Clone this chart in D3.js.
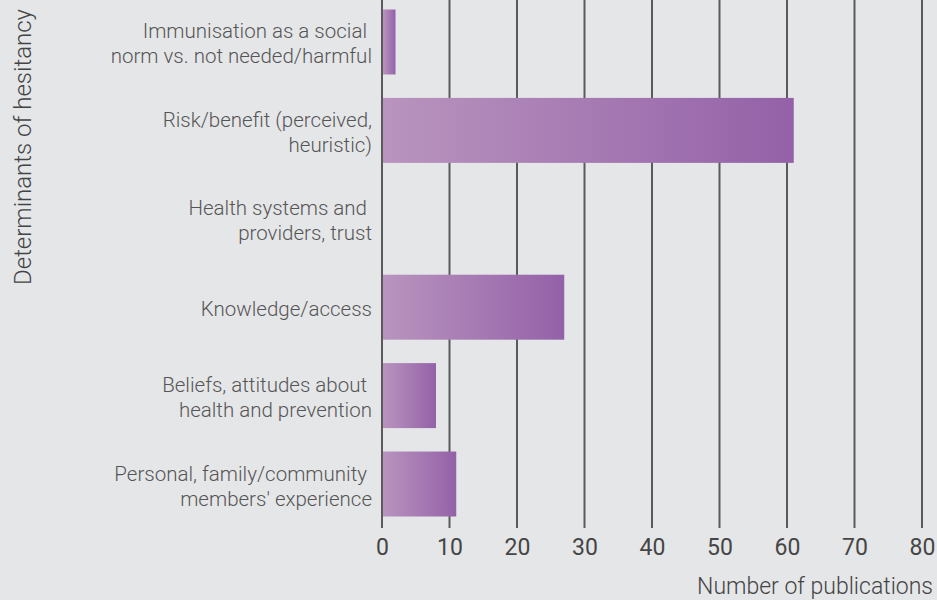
<!DOCTYPE html>
<html>
<head>
<meta charset="utf-8">
<script src="https://cdn.jsdelivr.net/npm/d3@7"></script>
<style>
  body { margin: 0; background: #e5e6e8; }
  svg { display: block; }
</style>
</head>
<body>
<svg id="chart" width="937" height="600"></svg>
<script>
var categories = [
  ["Immunisation as a social ", "norm vs. not needed/harmful"],
  ["Risk/benefit (perceived,", "heuristic)"],
  ["Health systems and ", "providers, trust"],
  ["Knowledge/access"],
  ["Beliefs, attitudes about ", "health and prevention"],
  ["Personal, family/community ", "members' experience"]
];
var publications = [2, 61, 0, 27, 8, 11];
var xTicks = [0, 10, 20, 30, 40, 50, 60, 70, 80];

var svg = d3.select("#chart");
var font = "Roboto, 'Open Sans', sans-serif";

svg.append("rect")
  .attr("width", 937).attr("height", 600)
  .attr("fill", "#e5e6e8");

var x = d3.scaleLinear().domain([0, 80]).range([382, 922]);
var y = d3.scaleBand()
  .domain(d3.range(categories.length))
  .range([-2, 528])
  .paddingInner(0.265)
  .paddingOuter(0.13);

var grad = svg.append("defs").append("linearGradient")
  .attr("id", "barGrad")
  .attr("x1", "0%").attr("x2", "100%")
  .attr("y1", "0%").attr("y2", "0%");
grad.append("stop").attr("offset", "0%").attr("stop-color", "#b994be");
grad.append("stop").attr("offset", "100%").attr("stop-color", "#9461a8");

// grid lines
svg.append("g")
  .selectAll("line")
  .data(xTicks)
  .join("line")
  .attr("x1", function(d) { return x(d); })
  .attr("x2", function(d) { return x(d); })
  .attr("y1", 0)
  .attr("y2", 528)
  .attr("stroke", "#5a5a5a")
  .attr("stroke-width", 2);

// bars
svg.append("g")
  .selectAll("rect")
  .data(publications.map(function(v, i) { return { i: i, v: v }; }).filter(function(d) { return d.v > 0; }))
  .join("rect")
  .attr("x", x(0) + 1)
  .attr("y", function(d) { return y(d.i); })
  .attr("width", function(d) { return x(d.v) - x(0) - 1; })
  .attr("height", y.bandwidth())
  .attr("fill", "url(#barGrad)");

// x axis tick labels
var xAxis = svg.append("g")
  .attr("transform", "translate(0,528)")
  .call(d3.axisBottom(x).tickValues(xTicks).tickSize(0).tickPadding(11));
xAxis.select(".domain").remove();
xAxis.selectAll("text")
  .attr("font-family", font)
  .attr("font-size", "23px")
  .attr("fill", "#454545")
  .attr("dy", "0.71em");

// category labels
var labels = svg.append("g")
  .selectAll("text")
  .data(categories)
  .join("text")
  .attr("text-anchor", "end")
  .attr("font-family", font)
  .attr("font-weight", 300)
  .attr("font-size", "20.5px")
  .attr("fill", "#555")
  .attr("xml:space", "preserve")
  .style("white-space", "pre")
  .attr("y", function(d, i) { return y(i) + y.bandwidth() / 2; });

labels.selectAll("tspan")
  .data(function(d) { return d.map(function(t, j) { return { t: t, j: j, n: d.length }; }); })
  .join("tspan")
  .attr("x", 372)
  .attr("dy", function(d) {
    if (d.j === 0) return ((d.n - 1) * -12.5 + 9) + "px";
    return "25px";
  })
  .text(function(d) { return d.t; });

// axis titles
svg.append("text")
  .attr("x", 933)
  .attr("y", 594)
  .attr("text-anchor", "end")
  .attr("font-family", font)
  .attr("font-weight", 300)
  .attr("font-size", "23px")
  .attr("fill", "#444")
  .text("Number of publications");

svg.append("text")
  .attr("transform", "translate(31,9) rotate(-90)")
  .attr("text-anchor", "end")
  .attr("font-family", font)
  .attr("font-weight", 300)
  .attr("font-size", "24px")
  .attr("fill", "#444")
  .text("Determinants of hesitancy");
</script>
</body>
</html>
